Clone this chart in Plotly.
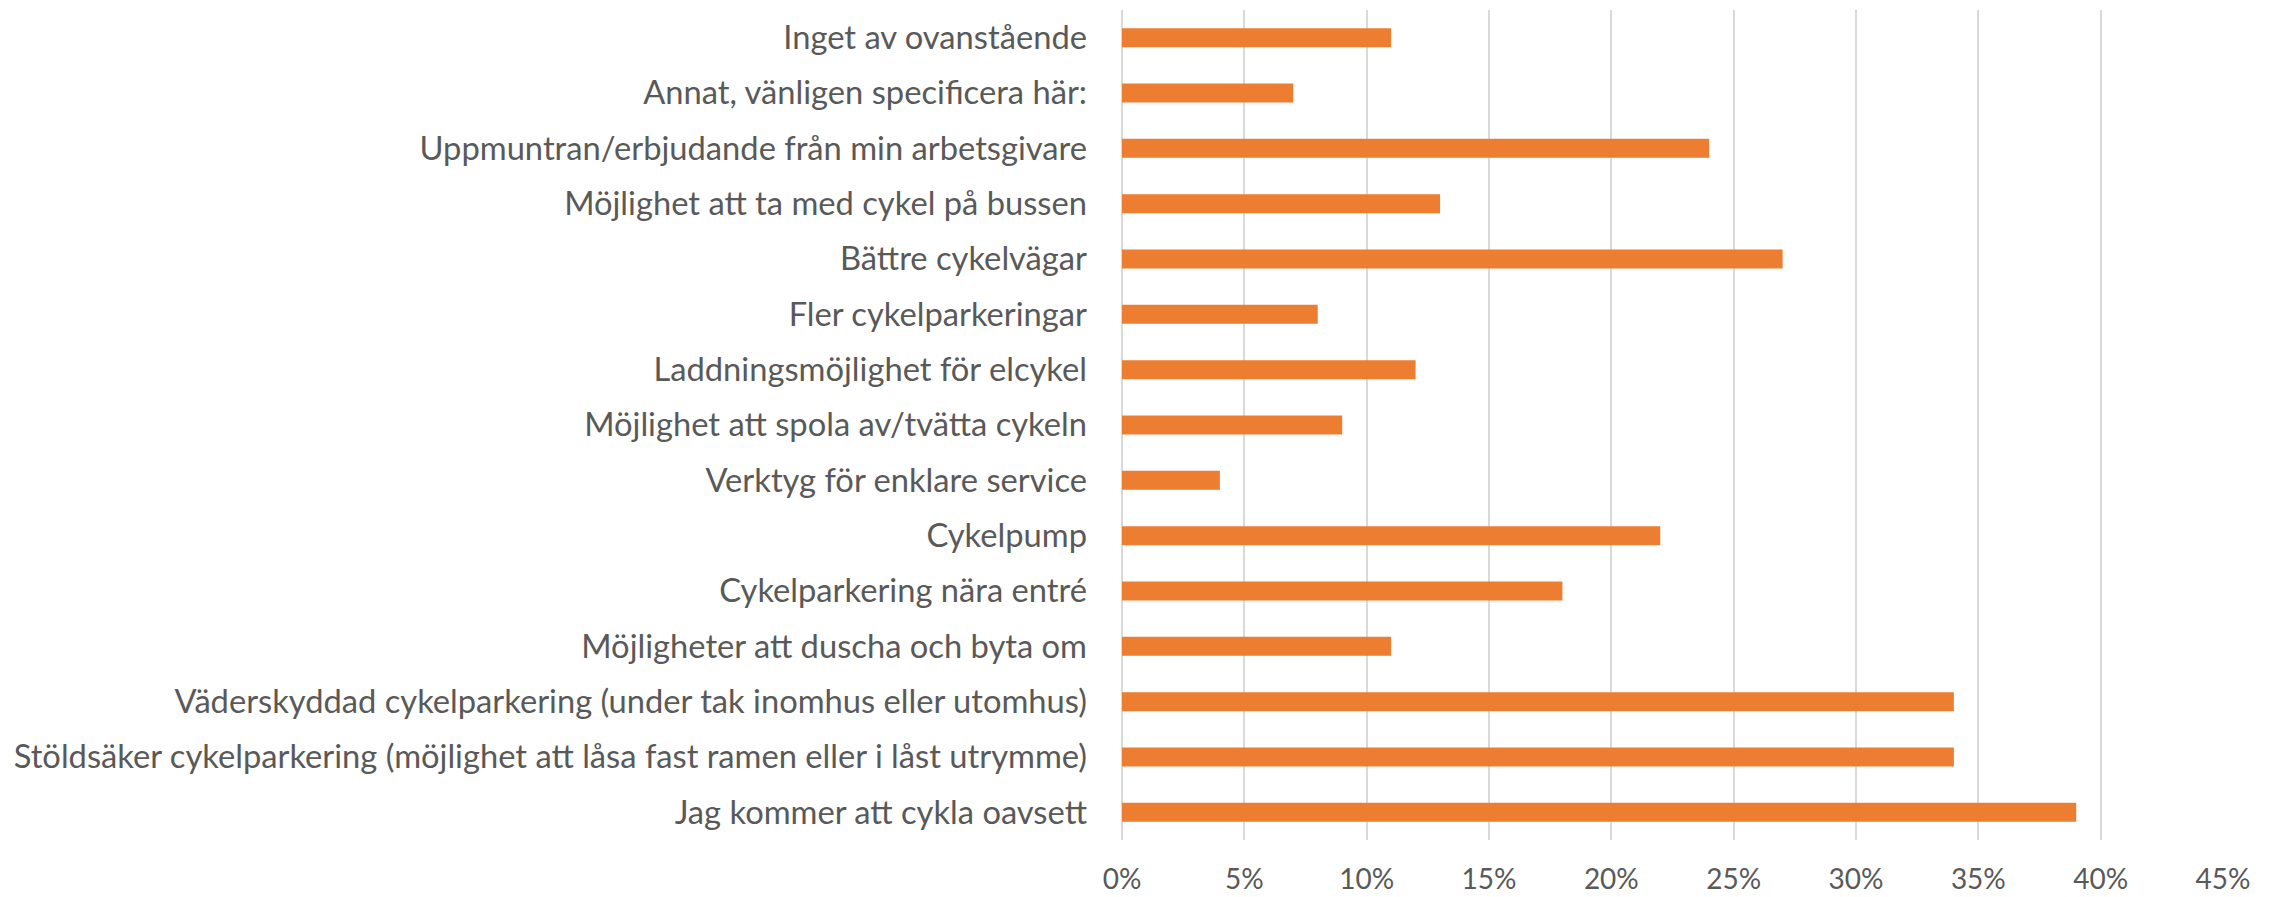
import plotly.graph_objects as go

categories = [
    "Inget av ovanstående",
    "Annat, vänligen specificera här:",
    "Uppmuntran/erbjudande från min arbetsgivare",
    "Möjlighet att ta med cykel på bussen",
    "Bättre cykelvägar",
    "Fler cykelparkeringar",
    "Laddningsmöjlighet för elcykel",
    "Möjlighet att spola av/tvätta cykeln",
    "Verktyg för enklare service",
    "Cykelpump",
    "Cykelparkering nära entré",
    "Möjligheter att duscha och byta om",
    "Väderskyddad cykelparkering (under tak inomhus eller utomhus)",
    "Stöldsäker cykelparkering (möjlighet att låsa fast ramen eller i låst utrymme)",
    "Jag kommer att cykla oavsett",
]
values = [0.11, 0.07, 0.24, 0.13, 0.27, 0.08, 0.12, 0.09, 0.04, 0.22, 0.18, 0.11, 0.34, 0.34, 0.39]
tick_vals = [0, 0.05, 0.10, 0.15, 0.20, 0.25, 0.30, 0.35, 0.40, 0.45]
tick_text = ["0%", "5%", "10%", "15%", "20%", "25%", "30%", "35%", "40%", "45%"]

FONT = "Lato"
GREY = "#595959"

fig = go.Figure(go.Bar(
    x=values, y=categories, orientation="h",
    marker=dict(color="#ED7D31", line=dict(width=0)),
    width=0.343,
))

fig.update_layout(
    width=2272, height=897,
    margin=dict(l=1122, r=49, t=10, b=57),
    paper_bgcolor="white", plot_bgcolor="white",
    showlegend=False,
    font=dict(family=FONT, size=28, color=GREY),
)
fig.update_xaxes(
    range=[0, 0.45], tickvals=tick_vals, ticktext=tick_text,
    showgrid=True, gridcolor="#d9d9d9", gridwidth=1.5,
    zeroline=True, zerolinecolor="#d9d9d9", zerolinewidth=1.5,
    showline=False, ticks="", ticklabelstandoff=20, automargin=False,
    tickfont=dict(family=FONT, size=28, color=GREY),
)
fig.update_yaxes(
    autorange="reversed", showgrid=False, zeroline=False, showline=False,
    ticks="", ticklabelstandoff=34, automargin=False,
    tickfont=dict(family=FONT, size=32.7, color=GREY),
)

fig.write_html(
    "out.html",
    config={"displayModeBar": False},
    post_script="document.body.style.margin='0';document.body.style.overflow='hidden';",
)
